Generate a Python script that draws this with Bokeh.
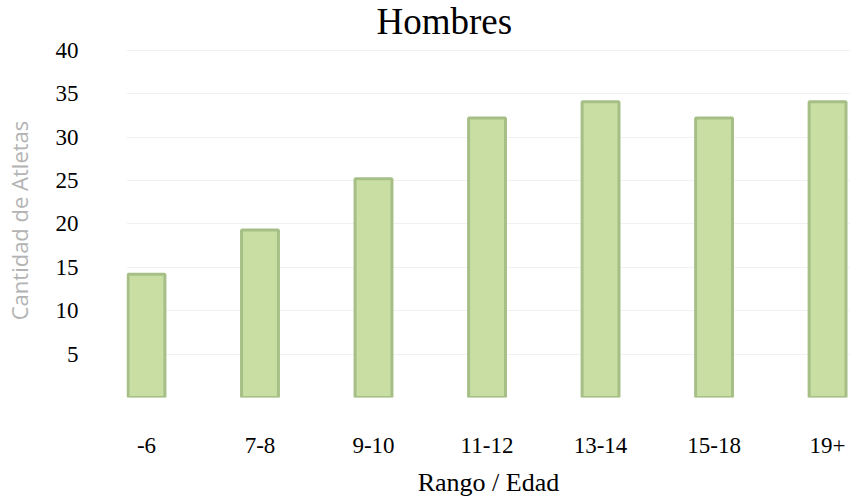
import numpy as np
from bokeh.plotting import figure
from bokeh.models import Range1d, FixedTicker, Title
from bokeh.embed import file_html
from bokeh.resources import INLINE

# ---- data ----
categories = ["-6", "7-8", "9-10", "11-12", "13-14", "15-18", "19+"]
athletes = [14.2, 19.3, 25.2, 32.2, 34.1, 32.2, 34.1]
y_ticks = [5, 10, 15, 20, 25, 30, 35, 40]
title_text = "Hombres"
x_label = "Rango / Edad"
y_label = "Cantidad de Atletas"

x = list(range(len(categories)))

p = figure(width=850, height=499, output_backend="svg", toolbar_location=None,
           x_range=Range1d(-0.176, 6.202), y_range=Range1d(0, 40.8),
           min_border_left=0, min_border_right=0, min_border_top=0, min_border_bottom=0)

p.title = Title(text=title_text, align="left", offset=250, vertical_align="top",
                text_font="Liberation Serif", text_font_size="37px",
                text_font_style="normal", text_color="black", standoff=0)

p.vbar(x=x, top=athletes, width=0.325, bottom=0,
       fill_color="#c8dea2", line_color="#a6bf87", line_width=3)

p.outline_line_color = None
p.xgrid.grid_line_color = None
p.ygrid.ticker = FixedTicker(ticks=y_ticks)
p.ygrid.grid_line_color = "#f1f1f1"

xa = p.xaxis[0]
xa.ticker = FixedTicker(ticks=x)
xa.major_label_overrides = {i: c for i, c in zip(x, categories)}
xa.axis_line_color = None
xa.major_tick_line_color = None
xa.minor_tick_line_color = None
xa.major_tick_out = 0
xa.major_label_standoff = 40
xa.major_label_text_font = "Liberation Serif"
xa.major_label_text_font_size = "23px"
xa.major_label_text_color = "black"
xa.axis_label = x_label
xa.axis_label_text_font = "Liberation Serif"
xa.axis_label_text_font_size = "26px"
xa.axis_label_text_font_style = "normal"
xa.axis_label_text_color = "black"
xa.axis_label_standoff = 12

ya = p.yaxis[0]
ya.ticker = FixedTicker(ticks=y_ticks)
ya.axis_line_color = None
ya.major_tick_line_color = None
ya.minor_tick_line_color = None
ya.major_tick_out = 0
ya.major_label_standoff = 48
ya.major_label_text_font = "Liberation Serif"
ya.major_label_text_font_size = "23px"
ya.major_label_text_color = "black"
ya.axis_label = y_label
ya.axis_label_text_font = "Open Sans"
ya.axis_label_text_font_size = "22px"
ya.axis_label_text_font_style = "normal"
ya.axis_label_text_color = "#b3b3b3"
ya.axis_label_standoff = 19

open("out.html", "w").write(file_html(p, INLINE))
